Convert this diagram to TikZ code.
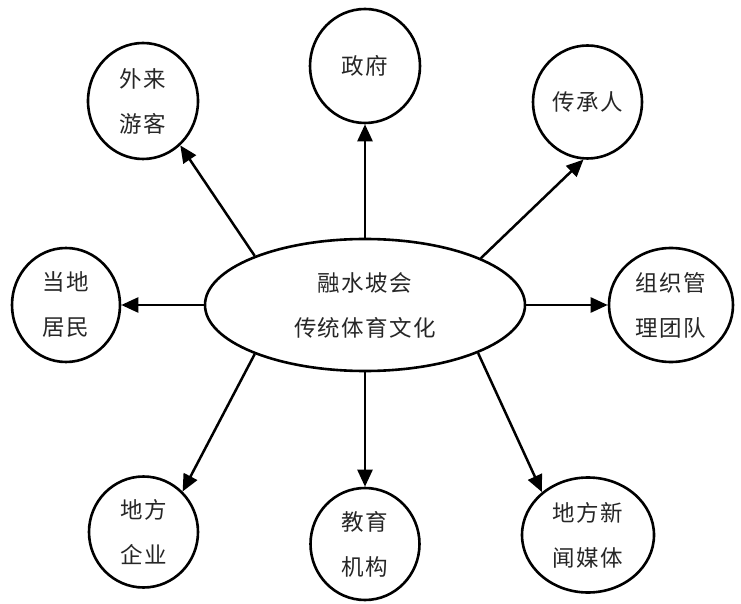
\documentclass[tikz,border=0pt]{standalone}
\usepackage{fontspec}
\newfontfamily\cjk[LetterSpace=6]{Noto Sans CJK SC}
\usetikzlibrary{arrows.meta,shapes.geometric}
\begin{document}
\begin{tikzpicture}[x=1pt,y=1pt,
  bub/.style={ellipse,draw,line width=2.6pt,inner sep=0pt,align=center,
    text=black!85,font=\cjk\fontsize{22.5}{45}\selectfont},
  arr/.style={line width=2.5pt,-{Triangle[length=17pt,width=15pt]}}]
\useasboundingbox (0,0) rectangle (741,603);
\node[bub,minimum width=320pt,minimum height=132pt] (e) at (365,298) {融水坡会\\传统体育文化};
\node[bub,minimum width=110pt,minimum height=116pt] (tour) at (143,502) {外来\\游客};
\node[bub,minimum width=110pt,minimum height=114pt] (gov) at (365,537) {政府};
\node[bub,minimum width=109pt,minimum height=113pt] (heir) at (587.5,501) {传承人};
\node[bub,minimum width=108pt,minimum height=114pt] (res) at (66,298) {当地\\居民};
\node[bub,minimum width=124pt,minimum height=114pt] (org) at (671,298) {组织管\\理团队};
\node[bub,minimum width=109pt,minimum height=111pt] (ent) at (143.5,71) {地方\\企业};
\node[bub,minimum width=109pt,minimum height=112pt] (edu) at (365,59) {教育\\机构};
\node[bub,minimum width=132pt,minimum height=115pt] (media) at (588,68) {地方新\\闻媒体};
\draw[arr] (e.156) -- (tour.-50);
\draw[arr] (e.north) -- (gov.south);
\draw[arr] (e.22.6) -- (heir.-94);
\draw[arr] (e.west) -- (res.east);
\draw[arr] (e.east) -- (org.west);
\draw[arr] (e.204) -- (ent.46);
\draw[arr] (e.south) -- (edu.north);
\draw[arr] (e.-23) -- (media.137);
\end{tikzpicture}
\end{document}
